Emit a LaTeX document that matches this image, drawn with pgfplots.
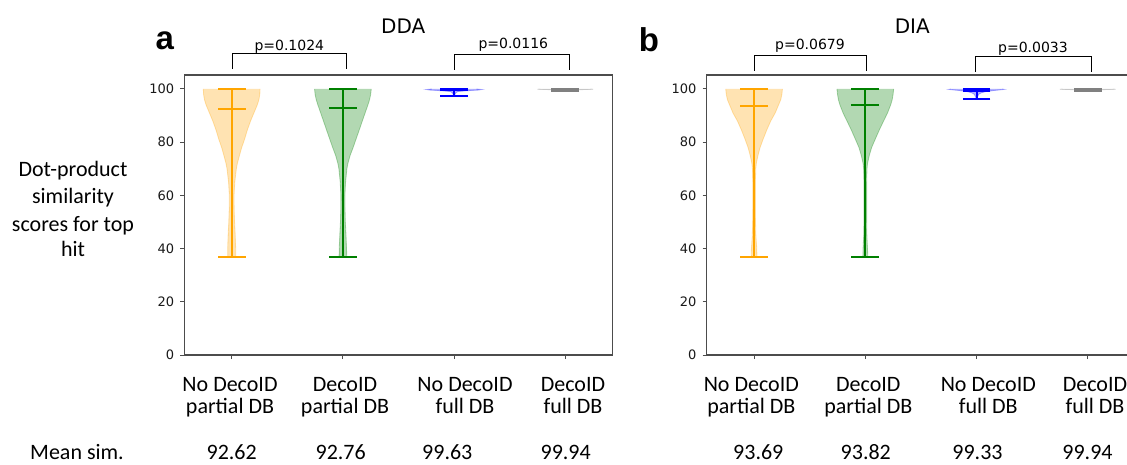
\documentclass[border=0pt]{standalone}
\usepackage{pgfplots}
\pgfplotsset{compat=1.18}
\usepackage{pgfplotstable}
\usepackage{fontspec}
\setmainfont{Carlito}
\newfontfamily\djv{DejaVu Sans}
\newfontfamily\arial{Liberation Sans}

\definecolor{vorange}{HTML}{FFA500}
\definecolor{vgreen}{HTML}{008000}
\definecolor{vblue}{HTML}{0000FF}
\definecolor{vgray}{HTML}{808080}

% Violin outlines: y value and half width (in category units)
% --- DDA ---
\pgfplotstableread{
y w
36.9 0.036
40 0.036
45 0.032
50 0.026
55 0.022
60 0.021
65 0.028
70 0.042
72 0.051
75 0.070
78 0.090
81 0.115
84.6 0.141
88 0.170
91 0.200
94 0.230
96 0.245
98 0.253
100 0.255
}\ddaNoPartial
\pgfplotstableread{
y w
36.9 0.034
40 0.033
45 0.028
50 0.022
55 0.019
60 0.018
65 0.024
70 0.036
72 0.045
75 0.065
78 0.092
81 0.117
84.6 0.147
88 0.175
91 0.200
94 0.225
96 0.240
98 0.250
100 0.255
}\ddaDecoPartial
\pgfplotstableread{
y w
97.2 0.004
98 0.008
98.5 0.015
99 0.030
99.3 0.100
99.6 0.220
99.8 0.250
100 0.200
}\ddaNoFull
\pgfplotstableread{
y w
99.4 0.010
99.7 0.060
99.8 0.200
99.9 0.250
100 0.230
}\ddaDecoFull
% --- DIA ---
\pgfplotstableread{
y w
36.8 0.026
40 0.024
45 0.016
50 0.013
55 0.012
60 0.012
65 0.012
70 0.015
72 0.020
75 0.035
78 0.054
81 0.080
84.6 0.114
88 0.150
91 0.190
94 0.220
96 0.240
98 0.250
100 0.255
}\diaNoPartial
\pgfplotstableread{
y w
36.8 0.022
40 0.020
45 0.014
50 0.012
55 0.012
60 0.012
65 0.012
70 0.015
72 0.020
75 0.036
78 0.057
81 0.088
84.6 0.126
88 0.165
91 0.200
94 0.228
96 0.242
98 0.250
100 0.255
}\diaDecoPartial
\pgfplotstableread{
y w
96.2 0.004
97 0.008
98 0.020
98.5 0.040
99 0.080
99.4 0.150
99.7 0.220
99.85 0.250
100 0.230
}\diaNoFull
\pgfplotstableread{
y w
99.4 0.010
99.7 0.060
99.8 0.200
99.9 0.250
100 0.230
}\diaDecoFull

% body of a violin: table, position, colour, lowest value
% each half is filled against the centre line, then the outline is stroked
\newcommand\violinbody[4]{%
  \addplot[fill=#3, fill opacity=0.3, draw=none, forget plot]
    table[x expr={#2+\thisrow{w}}, y=y]{#1} -- (axis cs:#2,100) -- (axis cs:#2,#4) -- cycle;
  \addplot[fill=#3, fill opacity=0.3, draw=none, forget plot]
    table[x expr={#2-\thisrow{w}}, y=y]{#1} -- (axis cs:#2,100) -- (axis cs:#2,#4) -- cycle;
  \addplot[#3, draw opacity=0.3, line width=0.8pt, forget plot] table[x expr={#2+\thisrow{w}}, y=y]{#1};
  \addplot[#3, draw opacity=0.3, line width=0.8pt, forget plot] table[x expr={#2-\thisrow{w}}, y=y]{#1};
}
% extrema bar and caps plus mean line: position, colour, min, max, mean
\newcommand\violinstats[5]{%
  \addplot[draw=#2, line width=2pt, forget plot] coordinates {(#1,#3) (#1,#4)};
  \addplot[draw=#2, only marks, mark=-, mark size=13.9pt, mark options={draw=#2, line width=2pt}, forget plot]
    coordinates {(#1,#3) (#1,#4) (#1,#5)};
}

\pgfplotsset{violinax/.style={
  scale only axis, width=428.4pt, height=280pt, anchor=south west,
  xmin=0.574, xmax=4.426, ymin=0, ymax=105.26,
  xtick={1,2,3,4}, xticklabels={}, ytick={0,20,40,60,80,100},
  tick align=outside, tick pos=left, major tick length=4pt,
  every tick/.style={gray!60!black, line width=1pt},
  axis line style={gray!60!black, line width=1.2pt},
  tick label style={font=\djv\fontsize{13}{13}\selectfont, text=black!90},
  yticklabel style={inner sep=0pt, xshift=-6pt},
  /pgf/number format/assume math mode=true,
}}

\begin{document}
\begin{tikzpicture}
\useasboundingbox (0,0) rectangle (1127pt,464pt);
\fill[white] (0,0) rectangle (1127pt,464pt);

% ---------------- panel a: DDA ----------------
\begin{axis}[violinax, at={(184.3pt,109pt)}]
  \violinbody{\ddaNoPartial}{1}{vorange}{36.9}
  \violinbody{\ddaDecoPartial}{2}{vgreen}{36.9}
  \violinbody{\ddaNoFull}{3}{vblue}{97.2}
  \violinbody{\ddaDecoFull}{4}{vgray}{99.4}
  \violinstats{1}{vorange}{36.9}{100}{92.62}
  \violinstats{2}{vgreen}{36.9}{100}{92.76}
  \violinstats{3}{vblue}{97.2}{100}{99.63}
  \violinstats{4}{vgray}{99.4}{100}{99.94}
\end{axis}

% ---------------- panel b: DIA ----------------
\begin{axis}[violinax, at={(706.7pt,109pt)}]
  \violinbody{\diaNoPartial}{1}{vorange}{36.8}
  \violinbody{\diaDecoPartial}{2}{vgreen}{36.8}
  \violinbody{\diaNoFull}{3}{vblue}{96.2}
  \violinbody{\diaDecoFull}{4}{vgray}{99.4}
  \violinstats{1}{vorange}{36.8}{100}{93.69}
  \violinstats{2}{vgreen}{36.8}{100}{93.82}
  \violinstats{3}{vblue}{96.2}{100}{99.33}
  \violinstats{4}{vgray}{99.4}{100}{99.94}
\end{axis}

% titles and panel letters
\node[anchor=base, font=\djv\fontsize{20}{20}\selectfont] at (403.3pt,430pt) {DDA};
\node[anchor=base, font=\djv\fontsize{20}{20}\selectfont] at (912.3pt,430.7pt) {DIA};
\node[anchor=base, font=\arial\bfseries\fontsize{33}{33}\selectfont] at (164.7pt,414pt) {a};
\node[anchor=base, font=\arial\bfseries\fontsize{33}{33}\selectfont] at (649pt,412.3pt) {b};

% significance brackets
\begin{scope}[line width=0.9pt]
  \draw (232pt,395pt) -- (232pt,410.7pt) -- (346.7pt,410.7pt) -- (346.7pt,395pt);
  \draw (454.3pt,394pt) -- (454.3pt,409.7pt) -- (569pt,409.7pt) -- (569pt,394pt);
  \draw (754.3pt,393.3pt) -- (754.3pt,409pt) -- (866pt,409pt) -- (866pt,393.3pt);
  \draw (975.7pt,392.3pt) -- (975.7pt,407.3pt) -- (1091pt,407.3pt) -- (1091pt,392.3pt);
\end{scope}
\begin{scope}[every node/.style={anchor=base, font=\djv\fontsize{14}{14}\selectfont}]
  \node at (289.3pt,413.3pt) {p=0.1024};
  \node at (513.3pt,415.7pt) {p=0.0116};
  \node at (810pt,414.7pt) {p=0.0679};
  \node at (1033pt,411.3pt) {p=0.0033};
\end{scope}

% y axis description
\begin{scope}[every node/.style={anchor=base, font=\fontsize{22}{22}\selectfont}]
  \node at (73pt,287.3pt) {Dot-product};
  \node at (73pt,260.7pt) {similarity};
  \node at (73pt,232.3pt) {scores for top};
  \node at (73pt,207.3pt) {hit};

  % category names
  \node at (230pt,73pt) {No DecoID};   \node at (230pt,50.5pt) {partial DB};
  \node at (345pt,73pt) {DecoID};      \node at (345pt,50.5pt) {partial DB};
  \node at (465pt,73pt) {No DecoID};   \node at (465pt,50.5pt) {full DB};
  \node at (573pt,73pt) {DecoID};      \node at (573pt,50.5pt) {full DB};
  \node at (751.3pt,73pt) {No DecoID}; \node at (751.3pt,50.5pt) {partial DB};
  \node at (868.3pt,73pt) {DecoID};    \node at (868.3pt,50.5pt) {partial DB};
  \node at (988.3pt,73pt) {No DecoID}; \node at (988.3pt,50.5pt) {full DB};
  \node at (1095pt,73pt) {DecoID};     \node at (1095pt,50.5pt) {full DB};
\end{scope}

% mean similarity row
\begin{scope}[every node/.style={anchor=base, inner sep=0pt, font=\fontsize{22}{22}\selectfont}]
  \node at (77pt,4.5pt) {Mean sim.};
  \node at (231.7pt,4.5pt) {92.62};
  \node at (340.7pt,4.5pt) {92.76};
  \node at (447.3pt,4.5pt) {99.63};
  \node at (565.7pt,4.5pt) {99.94};
  \node at (758.3pt,4.5pt) {93.69};
  \node at (865.8pt,4.5pt) {93.82};
  \node at (977.5pt,4.5pt) {99.33};
  \node at (1087.5pt,4.5pt) {99.94};
\end{scope}
\end{tikzpicture}
\end{document}
